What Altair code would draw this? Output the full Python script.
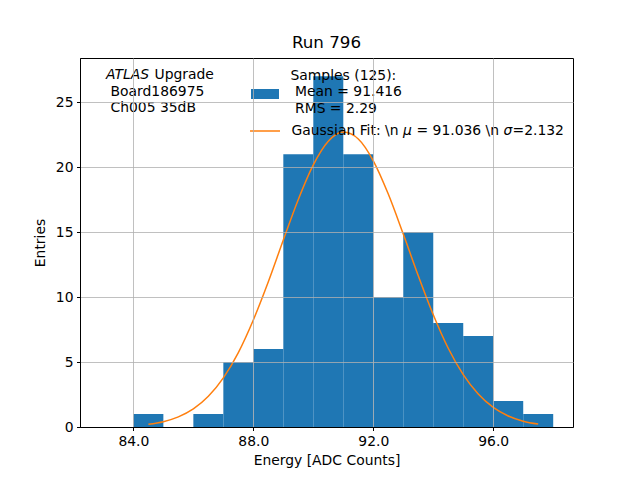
import altair as alt
import pandas as pd

# Histogram bins (left edges) and counts
bin_left = [84, 85, 86, 87, 88, 89, 90, 91, 92, 93, 94, 95, 96, 97]
counts = [1, 0, 1, 5, 6, 21, 27, 21, 10, 15, 8, 7, 2, 1]

# Gaussian fit curve
fit_x = [84.5, 85.0, 85.5, 86.0, 86.5, 87.0, 87.5, 88.0, 88.5, 89.0, 89.5, 90.0, 90.5, 91.0,
         91.5, 92.0, 92.5, 93.0, 93.5, 94.0, 94.5, 95.0, 95.5, 96.0, 96.5, 97.0, 97.5]
fit_y = [0.21, 0.41, 0.78, 1.39, 2.36, 3.78, 5.73, 8.24, 11.18, 14.39, 17.51, 20.17, 21.99, 22.7,
         22.17, 20.49, 17.93, 14.85, 11.64, 8.64, 6.06, 4.03, 2.54, 1.51, 0.85, 0.45, 0.23]

x_ticks = [84, 88, 92, 96]
y_ticks = [0, 5, 10, 15, 20, 25]

FONT = "DejaVu Sans"
FS = 13.9
BLUE = "#1f77b4"
ORANGE = "#ff7f0e"

hist = pd.DataFrame({"x": bin_left, "x2": [b + 1 for b in bin_left], "y": counts})
fit = pd.DataFrame({"x": fit_x, "y": fit_y})

xscale = alt.Scale(domain=[82.22, 98.66], nice=False, zero=False)
yscale = alt.Scale(domain=[0, 28.4], nice=False)

xaxis = alt.Axis(values=x_ticks, format=".1f", title="Energy [ADC Counts]",
                 grid=True, zindex=1)
yaxis = alt.Axis(values=y_ticks, title="Entries", grid=True, zindex=1)

bars = alt.Chart(hist).mark_rect(color=BLUE).encode(
    x=alt.X("x:Q", scale=xscale, axis=xaxis),
    x2="x2:Q",
    y=alt.Y("y:Q", scale=yscale, axis=yaxis),
    y2=alt.datum(0),
)

curve = alt.Chart(fit).mark_line(color=ORANGE, strokeWidth=1.5, interpolate="monotone").encode(
    x=alt.X("x:Q", scale=xscale),
    y=alt.Y("y:Q", scale=yscale),
)

one = pd.DataFrame({"a": [0]})

def txt(s, x, y, italic=False):
    return alt.Chart(one).mark_text(
        text=s, align="left", baseline="middle", font=FONT, fontSize=FS,
        fontStyle="italic" if italic else "normal", color="black",
    ).encode(x=alt.value(x), y=alt.value(y))

texts = [
    txt("ATLAS", 26, 16.5, True),
    txt("Upgrade", 74.5, 16.5),
    txt("Board186975", 30.5, 33.5),
    txt("Ch005 35dB", 30.5, 50),
    txt("Samples (125):", 210.5, 17.5),
    txt("Mean = 91.416", 215, 34),
    txt("RMS = 2.29", 215, 50.5),
    txt("Gaussian Fit: \\n", 211.5, 73),
    txt("\u03bc", 323, 73, True),
    txt("= 91.036 \\n", 336.5, 73),
    txt("\u03c3", 423.5, 73, True),
    txt("=2.132", 432.5, 73),
]

patch = alt.Chart(one).mark_rect(color=BLUE).encode(
    x=alt.value(171), x2=alt.value(199), y=alt.value(31), y2=alt.value(41))
legline = alt.Chart(one).mark_rule(color=ORANGE, strokeWidth=1.5).encode(
    x=alt.value(170), x2=alt.value(200), y=alt.value(73))

chart = alt.layer(bars, curve, patch, legline, *texts).properties(
    width=493, height=369,
    title=alt.TitleParams("Run 796", fontSize=16.7, fontWeight="normal", font=FONT, offset=6),
    autosize="none",
    padding={"left": 72, "top": 50, "right": 59, "bottom": 45},
).configure_view(stroke="black", strokeWidth=1).configure_axis(
    labelFont=FONT, titleFont=FONT, labelFontSize=FS, titleFontSize=FS,
    titleFontWeight="normal", labelColor="black", titleColor="black",
    domainColor="black", tickColor="black", tickSize=3.5, labelPadding=3.5,
    gridColor="#b0b0b0", gridWidth=0.8, gridOpacity=1,
).configure_axisX(titlePadding=6).configure_axisY(titlePadding=8)

chart.save("out.html", embed_options={"renderer": "svg", "actions": False})
